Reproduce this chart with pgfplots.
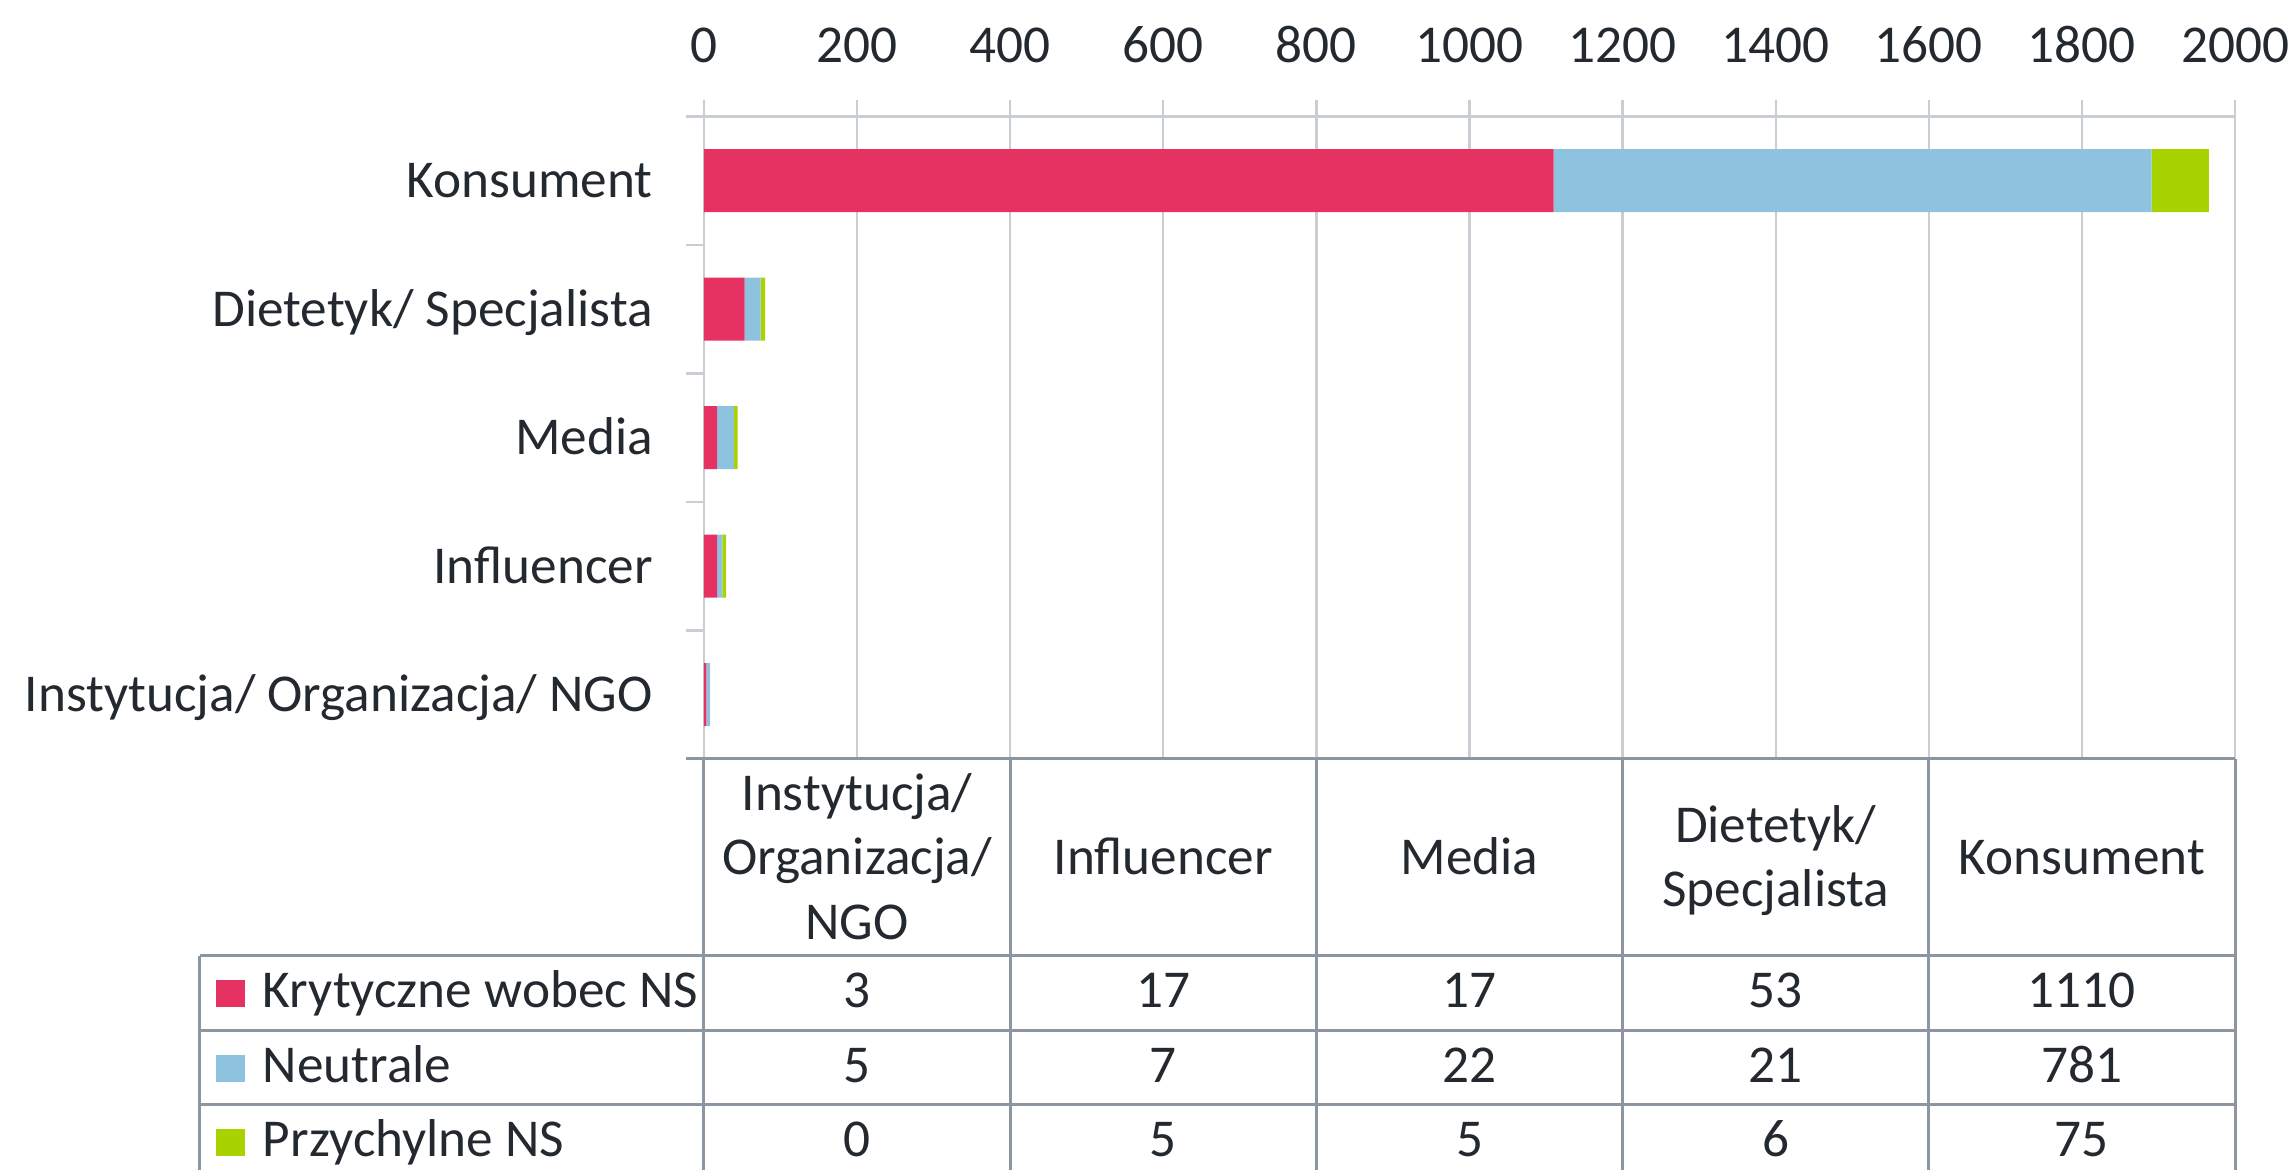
\documentclass[border=0pt]{standalone}
\usepackage{pgfplots}
\pgfplotsset{compat=1.18}
\usepackage{fontspec}
\setmainfont{Carlito}

\definecolor{kryt}{HTML}{E63262}
\definecolor{neut}{HTML}{8EC3DF}
\definecolor{przy}{HTML}{A8D300}
\definecolor{txt}{HTML}{23292E}
\definecolor{gridc}{HTML}{C9CED2}
\definecolor{tabc}{HTML}{8C96A0}

\newcommand{\lbl}{\fontsize{10.65}{12.9}\selectfont}

\begin{document}
\begin{tikzpicture}[font=\lbl, text=txt]
\begin{axis}[
    at={(0,0)}, anchor=south west,
    scale only axis,
    width=306.2pt, height=131.8pt,
    xbar stacked, bar width=12.6pt,
    xmin=0, xmax=2000, ymin=-0.5, ymax=4.628,
    xtick={0,200,...,2000},
    xticklabel pos=upper,
    ytick={0,1,2,3,4},
    yticklabels={Instytucja/ Organizacja/ NGO, Influencer, Media, Dietetyk/ Specjalista, Konsument},
    axis line style={draw=none},
    major tick style={draw=none},
    xmajorgrids, grid style={gridc, line width=0.45pt},
    tick label style={font=\lbl, text=txt},
    xticklabel style={yshift=3.8pt},
    yticklabel style={anchor=base east, xshift=-6.7pt, yshift=-3.4pt},
    /pgf/number format/assume math mode=true,
    /pgf/number format/1000 sep={},
    clip=false,
]
% Krytyczne wobec NS
\addplot[fill=kryt, draw=none] coordinates {(3,0) (17,1) (17,2) (53,3) (1110,4)};
% Neutrale
\addplot[fill=neut, draw=none] coordinates {(5,0) (7,1) (22,2) (21,3) (781,4)};
% Przychylne NS
\addplot[fill=przy, draw=none] coordinates {(0,0) (5,1) (5,2) (6,3) (75,4)};
\end{axis}

% data table below the plot, in pixel units of the reference
\begin{scope}[x=0.2pt, y=-0.2pt, shift={(-140.8pt,151.8pt)}]
  \coordinate (bbA) at (0,0);
  \coordinate (bbB) at (2295,1170);
  \draw[gridc, line width=0.5pt] (686,116.75) -- (2235,116.75);
  \foreach \y in {245.25,373.75,502.25,630.75}
    \draw[gridc, line width=0.5pt] (686,\y) -- (704,\y);
  \begin{scope}[tabc, line width=0.6pt]
    \draw (686,759) -- (2235,759);
    \foreach \x in {704,1010.2,1316.4,1622.6,1928.8,2235}
      \draw (\x,759) -- (\x,1175);
    \foreach \y in {956,1031,1105}
      \draw (200,\y) -- (2235,\y);
    \draw (200,956) -- (200,1175);
  \end{scope}
  % header
  \node[anchor=base] at (857.1,811) {Instytucja/};
  \node[anchor=base] at (857.1,875) {Organizacja/};
  \node[anchor=base] at (857.1,940) {NGO};
  \node[anchor=base] at (1163.3,875) {Influencer};
  \node[anchor=base] at (1469.5,875) {Media};
  \node[anchor=base] at (1775.7,843) {Dietetyk/};
  \node[anchor=base] at (1775.7,907) {Specjalista};
  \node[anchor=base] at (2081.9,875) {Konsument};
  % legend keys
  \fill[kryt] (216,980) rectangle (245,1007);
  \fill[neut] (216,1055) rectangle (245,1082);
  \fill[przy] (216,1129) rectangle (245,1156);
  \node[anchor=base west, inner sep=0] at (262,1008) {Krytyczne wobec NS};
  \node[anchor=base west, inner sep=0] at (262,1083) {Neutrale};
  \node[anchor=base west, inner sep=0] at (262,1157) {Przychylne NS};
  % values
  \foreach \v [count=\i from 0] in {3,17,17,53,1110}
    \node[anchor=base] at (857.1+306.2*\i,1008) {\v};
  \foreach \v [count=\i from 0] in {5,7,22,21,781}
    \node[anchor=base] at (857.1+306.2*\i,1083) {\v};
  \foreach \v [count=\i from 0] in {0,5,5,6,75}
    \node[anchor=base] at (857.1+306.2*\i,1157) {\v};
\end{scope}
\pgfresetboundingbox
\useasboundingbox (bbA) rectangle (bbB);
\end{tikzpicture}
\end{document}
